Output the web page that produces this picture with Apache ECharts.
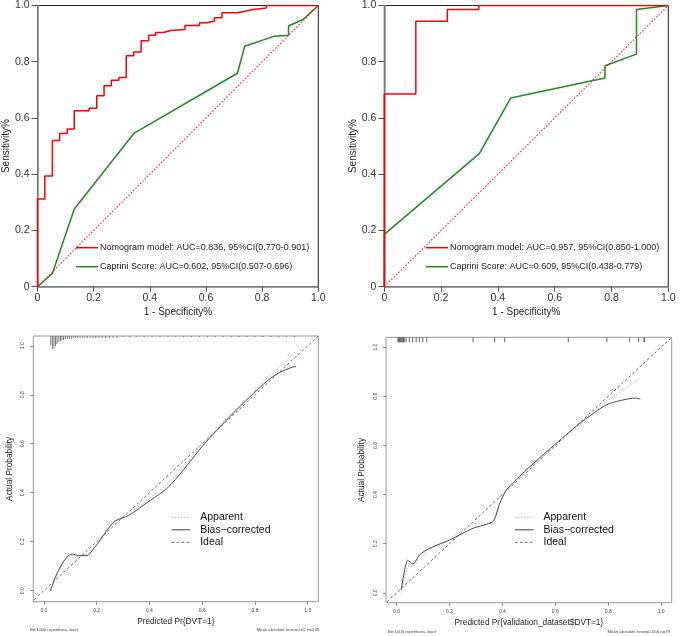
<!DOCTYPE html>
<html>
<head>
<meta charset="utf-8">
<script src="https://cdn.jsdelivr.net/npm/echarts@6/dist/echarts.min.js"></script>
<style>
html,body{margin:0;padding:0;background:#fff;}
#main{width:685px;height:636px;}
</style>
</head>
<body>
<div id="main"></div>
<script>
// ---------------- DATA ----------------
const calTicks = [0, 0.2, 0.4, 0.6, 0.8, 1.0];
const diagTrain = [[0, 0, 1, 1]];
const diagVal = [[0, 0, 1, 1]];
const idealTrain = [[-0.05, -0.05, 1.05, 1.05]];
const idealVal = [[-0.05, -0.05, 1.05, 1.05]];

// Training ROC (step vertices)
const trainNomoFpr = [0,0,0.026,0.053,0.079,0.106,0.131,0.184,0.211,0.237,0.263,0.29,0.316,0.343,0.369,0.396,0.421,0.448,0.475,0.525,0.577,0.604,0.63,0.657,0.709,0.736,0.762,0.815,1.0];
const trainNomoTpr = [0,0.312,0.394,0.52,0.545,0.561,0.626,0.635,0.679,0.715,0.734,0.744,0.821,0.835,0.875,0.894,0.904,0.911,0.915,0.929,0.939,0.945,0.956,0.974,0.979,0.985,0.991,1.0,1.0];
const trainCapFpr = [0,0.053,0.131,0.343,0.712,0.738,0.844,0.894,0.894,0.947,0.977,1.0];
const trainCapTpr = [0,0.047,0.276,0.545,0.759,0.855,0.891,0.894,0.927,0.951,0.979,1.0];

// Validation ROC
const valNomoFpr = [0,0,0.111,0.222,0.333,1.0];
const valNomoTpr = [0,0.685,0.944,0.986,1.0,1.0];
const valCapFpr = [0,0,0.3345,0.445,0.777,0.777,0.888,0.888,1.0];
const valCapTpr = [0,0.186,0.473,0.671,0.742,0.786,0.827,0.986,1.0];

const rocLegendTrain = ['Nomogram model: AUC=0.836, 95%CI(0.770-0.901)', 'Caprini Score: AUC=0.602, 95%CI(0.507-0.696)'];
const rocLegendVal = ['Nomogram model: AUC=0.957, 95%CI(0.850-1.000)', 'Caprini Score: AUC=0.609, 95%CI(0.438-0.779)'];

// Training calibration
const calTrainX = [0.025,0.044,0.069,0.088,0.107,0.132,0.164,0.183,0.208,0.239,0.27,0.321,0.403,0.466,0.528,0.604,0.717,0.843,0.893,0.943,0.956];
const calTrainBias = [0.0,0.055,0.109,0.137,0.150,0.143,0.143,0.164,0.198,0.246,0.284,0.307,0.369,0.417,0.492,0.594,0.724,0.854,0.891,0.913,0.915];
const calTrainApp = [0.0,0.06,0.11,0.135,0.145,0.145,0.15,0.17,0.2,0.25,0.285,0.315,0.38,0.435,0.505,0.605,0.73,0.865,0.915,0.965,0.98];
const rugTrainX = [0.026,0.032,0.038,0.044,0.05,0.057,0.063,0.069,0.075,0.082,0.089,0.096,0.104,0.112,0.12,0.128,0.137,0.146,0.155,0.165,0.175,0.186,0.197,0.209,0.221,0.234,0.248,0.262,0.277,0.3,0.325,0.35,0.38,0.41,0.44,0.47,0.5,0.53,0.56,0.59,0.62,0.65,0.68,0.71,0.74,0.77,0.8,0.83,0.86,0.89,0.92,0.95];
const rugTrainN = [9,13,12,10,8,6,5,4,4,3,3,3,3,2,2,2,2,2,2,2,2,2,2,2,2,2,2,2,2,1,1,1,1,1,1,1,1,1,1,1,1,1,1,1,1,1,1,1,1,1,1,1];

// Validation calibration
const calValX = [0.017,0.042,0.063,0.086,0.124,0.2,0.289,0.364,0.39,0.415,0.491,0.605,0.694,0.795,0.902,0.921];
const calValBias = [0.011,0.133,0.117,0.154,0.181,0.215,0.263,0.29,0.365,0.419,0.501,0.61,0.691,0.766,0.793,0.789];
const calValApp = [0.0,0.105,0.11,0.14,0.175,0.22,0.28,0.29,0.36,0.415,0.5,0.6,0.685,0.78,0.86,0.882];
const rugValX = [0.005,0.008,0.011,0.014,0.017,0.02,0.023,0.026,0.029,0.036,0.048,0.061,0.074,0.086,0.099,0.114,0.289,0.371,0.409,0.649,0.795,0.881,0.915,0.935,0.938];
const rugValN = [1,1,1,1,1,1,1,1,1,1,1,1,1,1,1,1,1,1,1,1,1,1,1,1,1];

const calLegend = ['Apparent', 'Bias\u2212corrected', 'Ideal'];
const calTitles = ['Predicted Pr{DVT=1}', 'Predicted Pr{validation_dataset$DVT=1}'];
const calSubLeft = 'B= 1000 repetitions, boot';
const calSubRight = ['Mean absolute error=0.02 n=238', 'Mean absolute error=0.056 n=79'];

// ---------------- CHART ----------------
const FONT = 'Liberation Sans, Arial, sans-serif';
const zip = (a, b) => a.map((v, i) => [v, b[i]]);
const RED = '#ff0000', GREEN = '#1f8b1f', DIAG = '#ff1a1a';
const APP = '#b9b9b9';

const chart = echarts.init(document.getElementById('main'), null, {renderer: 'canvas'});

function rocX(gi) {
  return {
    gridIndex: gi, type: 'value', min: 0, max: 1, interval: 0.2,
    axisLine: {show: true, onZero: false, lineStyle: {color: '#8a8a8a', width: 1.5}},
    axisTick: {show: true, length: 5, lineStyle: {color: '#555'}},
    axisLabel: {fontSize: 10.5, color: '#333', margin: 6, fontFamily: FONT, formatter: v => v === 0 ? '0' : v.toFixed(1)},
    splitLine: {show: false},
    name: '1 - Specificity%', nameLocation: 'middle', nameGap: 21,
    nameTextStyle: {fontSize: 10, color: '#222', fontFamily: FONT}
  };
}
function rocY(gi) {
  return {
    gridIndex: gi, type: 'value', min: 0, max: 1, interval: 0.2,
    axisLine: {show: true, onZero: false, lineStyle: {color: '#8a8a8a', width: 1.5}},
    axisTick: {show: true, length: 6, lineStyle: {color: '#555'}},
    axisLabel: {fontSize: 10.5, color: '#333', margin: 8, fontFamily: FONT, formatter: v => v === 0 ? '0' : v.toFixed(1)},
    splitLine: {show: false},
    name: 'Sensitivity%', nameLocation: 'middle', nameGap: 25,
    nameTextStyle: {fontSize: 10, color: '#222', fontFamily: FONT}
  };
}
function calX(gi, title) {
  return {
    gridIndex: gi, type: 'value', min: -0.04, max: 1.04,
    axisLine: {show: false, onZero: false},
    axisTick: {show: true, length: 3, customValues: calTicks, lineStyle: {color: '#888'}},
    axisLabel: {fontSize: 5, color: '#444', margin: 6, fontFamily: FONT, customValues: calTicks, formatter: v => v.toFixed(1)},
    splitLine: {show: false},
    name: title, nameLocation: 'middle', nameGap: 16,
    nameTextStyle: {fontSize: 8.3, color: '#222', fontFamily: FONT}
  };
}
function calY(gi, mn, mx) {
  return {
    gridIndex: gi, type: 'value', min: mn, max: mx,
    axisLine: {show: false, onZero: false},
    axisTick: {show: true, length: 3, customValues: calTicks, lineStyle: {color: '#888'}},
    axisLabel: {fontSize: 5, color: '#444', margin: 8, rotate: 90, fontFamily: FONT, customValues: calTicks, formatter: v => v.toFixed(1)},
    splitLine: {show: false},
    name: 'Actual Probability', nameLocation: 'middle', nameGap: 20,
    nameTextStyle: {fontSize: 8.3, color: '#222', fontFamily: FONT}
  };
}

function rugSeries(xi, xs, ns, yTop, unit, color) {
  return {
    type: 'custom', xAxisIndex: xi, yAxisIndex: xi, silent: true, clip: false,
    data: zip(xs, ns),
    renderItem: (params, api) => {
      const p = api.coord([api.value(0), yTop]);
      return {type: 'line', shape: {x1: p[0], y1: p[1], x2: p[0], y2: p[1] + api.value(1) * unit},
              style: {stroke: color, lineWidth: 1}};
    }
  };
}
// straight reference segment (ROC chance line / calibration ideal line)
function segSeries(xi, data, color, width, dash, z) {
  return {
    type: 'custom', xAxisIndex: xi, yAxisIndex: xi, silent: true, clip: true, z: z,
    data: data,
    renderItem: (params, api) => {
      const a = api.coord([api.value(0), api.value(1)]);
      const b = api.coord([api.value(2), api.value(3)]);
      return {type: 'line', shape: {x1: a[0], y1: a[1], x2: b[0], y2: b[1]},
              style: {stroke: color, lineWidth: width, lineDash: dash}};
    }
  };
}

function lineS(xi, data, color, width, type, extra) {
  return Object.assign({
    type: 'line', xAxisIndex: xi, yAxisIndex: xi, data: data, showSymbol: false, symbol: 'none',
    silent: true, animation: false, clip: true, z: 2,
    itemStyle: {color: color},
    lineStyle: {color: color, width: width, type: type}
  }, extra || {});
}

const calLeg = (x0, y0) => {
  const els = [];
  const styles = [
    {stroke: APP, lineWidth: 1, lineDash: [1.5, 1.5]},
    {stroke: '#444', lineWidth: 1},
    {stroke: '#555', lineWidth: 0.9, lineDash: [2.5, 2.5]}
  ];
  calLegend.forEach((t, i) => {
    const y = y0 + i * 12.5;
    els.push({type: 'line', shape: {x1: x0, y1: y, x2: x0 + 18.5, y2: y}, style: styles[i]});
    els.push({type: 'text', x: x0 + 28.5, y: y, style: {text: t, fontSize: 10.5, fontFamily: FONT, fill: '#111', verticalAlign: 'middle'}});
  });
  return els;
};
const rocLeg = (x0, y0, texts) => {
  const els = [];
  [RED, GREEN].forEach((c, i) => {
    const y = y0 + i * 19;
    els.push({type: 'line', shape: {x1: x0, y1: y, x2: x0 + 22, y2: y}, style: {stroke: c, lineWidth: 1.5}});
    els.push({type: 'text', x: x0 + 24, y: y, style: {text: texts[i], fontSize: 9, fontFamily: FONT, fill: '#222', verticalAlign: 'middle'}});
  });
  return els;
};

const option = {
  animation: false,
  backgroundColor: '#fff',
  grid: [
    {left: 34.3, top: 3.3, width: 284, height: 283.4, show: true, borderColor: '#222', borderWidth: 1},
    {left: 384.3, top: 3.3, width: 284, height: 283.4, show: true, borderColor: '#222', borderWidth: 1},
    {left: 33.3, top: 336, width: 285, height: 265.7, show: true, borderColor: '#999', borderWidth: 1},
    {left: 386, top: 337.3, width: 285.7, height: 265.4, show: true, borderColor: '#999', borderWidth: 1}
  ],
  xAxis: [rocX(0), rocX(1), calX(2, calTitles[0]), calX(3, calTitles[1])],
  yAxis: [rocY(0), rocY(1), calY(2, -0.045, 1.04), calY(3, -0.04, 1.04)],
  series: [
    // ROC training
    lineS(0, zip(trainCapFpr, trainCapTpr), GREEN, 1.5, 'solid'),
    lineS(0, zip(trainNomoFpr, trainNomoTpr), RED, 1.5, 'solid', {step: 'end'}),
    segSeries(0, diagTrain, DIAG, 1.1, [1.5, 1.8], 5),
    // ROC validation
    lineS(1, zip(valCapFpr, valCapTpr), GREEN, 1.5, 'solid'),
    lineS(1, zip(valNomoFpr, valNomoTpr), RED, 1.5, 'solid', {step: 'end'}),
    segSeries(1, diagVal, DIAG, 1.1, [1.5, 1.8], 5),
    // Calibration training
    segSeries(2, idealTrain, '#555', 0.9, [2.5, 2.5], 2),
    lineS(2, zip(calTrainX, calTrainApp), APP, 1, [1.5, 1.5], {smooth: 0.3}),
    lineS(2, zip(calTrainX, calTrainBias), '#4a4a4a', 1, 'solid', {smooth: 0.3}),
    rugSeries(2, rugTrainX, rugTrainN, 1.04, 1, '#7a7a7a'),
    // Calibration validation
    segSeries(3, idealVal, '#555', 0.9, [2.5, 2.5], 2),
    lineS(3, zip(calValX, calValApp), APP, 1, [1.5, 1.5], {smooth: 0.2}),
    lineS(3, zip(calValX, calValBias), '#4a4a4a', 1, 'solid', {smooth: 0.2}),
    rugSeries(3, rugValX, rugValN, 1.04, 5, '#666')
  ],
  graphic: [].concat(
    rocLeg(76, 247.7, rocLegendTrain),
    rocLeg(426, 247.7, rocLegendVal),
    calLeg(171.7, 517.3),
    calLeg(515, 517.3),
    [
      {type: 'text', x: 30, y: 630, style: {text: calSubLeft, fontSize: 4.3, fontFamily: FONT, fill: '#444', verticalAlign: 'middle'}},
      {type: 'text', x: 319, y: 630, style: {text: calSubRight[0], fontSize: 4.3, fontFamily: FONT, fill: '#444', verticalAlign: 'middle', align: 'right'}},
      {type: 'text', x: 388, y: 631.5, style: {text: calSubLeft, fontSize: 4.3, fontFamily: FONT, fill: '#444', verticalAlign: 'middle'}},
      {type: 'text', x: 670, y: 631.5, style: {text: calSubRight[1], fontSize: 4.3, fontFamily: FONT, fill: '#444', verticalAlign: 'middle', align: 'right'}}
    ]
  )
};
chart.setOption(option);
</script>
</body>
</html>
